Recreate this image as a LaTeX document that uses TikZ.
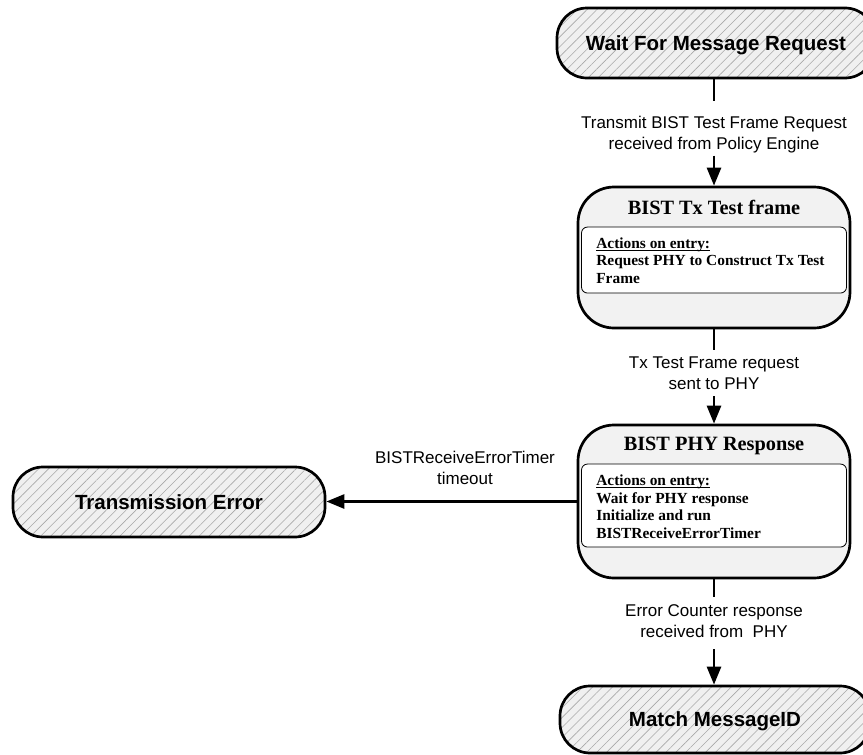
\documentclass[tikz,border=0pt]{standalone}
\usepackage{fontspec}
\setmainfont{Liberation Sans}
\newfontfamily\statefont{Liberation Serif}
\usetikzlibrary{arrows.meta, patterns.meta}

\definecolor{hatchbg}{HTML}{F0F0F0}
\definecolor{hatchln}{HTML}{A8A8A8}
\definecolor{statebg}{HTML}{F2F2F2}

\tikzset{
  terminal/.style={draw, line width=2.7pt, rounded corners=30pt,
    preaction={fill=hatchbg},
    pattern={Lines[angle=45, distance=7pt, line width=0.6pt]}, pattern color=hatchln,
    font=\fontsize{20.5}{24}\selectfont\bfseries,
    text height=14.7pt, text depth=0pt, inner sep=0pt},
  statebox/.style={draw, line width=2.7pt, rounded corners=36pt, fill=statebg,
    minimum width=272pt, inner sep=0pt},
  statetitle/.style={font=\statefont\fontsize{20.3}{24}\selectfont\bfseries,
    inner sep=0pt, anchor=base},
  actionbox/.style={draw, line width=0.8pt, rounded corners=6pt, fill=white,
    minimum width=265pt, inner sep=0pt, anchor=north},
  actiontext/.style={font=\statefont\fontsize{15.4}{17.4}\selectfont\bfseries,
    align=left, inner sep=0pt, anchor=north west},
  trans/.style={font=\fontsize{17}{21}\selectfont, align=center, inner sep=0pt},
  link/.style={line width=2.7pt},
  arrowlink/.style={line width=2.7pt, -{Triangle[length=18pt, width=14pt]}},
}
% heading of an action list: underlined just below the baseline
\newcommand{\actionhead}{\underline{\smash{Actions on entry:}}}

\begin{document}
\begin{tikzpicture}[x=1pt, y=-1pt]
\useasboundingbox (0,0) rectangle (863,755);

% terminal states
\node[terminal, minimum width=318pt, minimum height=70pt] (wait) at (716,43) {Wait For Message Request};
\node[terminal, minimum width=312pt, minimum height=70pt] (err) at (169,502) {Transmission Error};
\node[terminal, minimum width=310pt, minimum height=67pt] (match) at (715,719.5) {Match MessageID};

% BIST Tx Test frame state
\node[statebox, minimum height=141pt] (tx) at (714,257.5) {};
\node[statetitle] (txT) at ([yshift=-29pt]tx.north) {BIST Tx Test frame};
\node[actionbox, minimum height=66pt] (txA) at ([yshift=-41pt]tx.north) {};
\node[actiontext] (txL) at ([xshift=15pt,yshift=-21.5pt]txA.north west)
  {\actionhead\\Request PHY to Construct Tx Test\\Frame};

% BIST PHY Response state
\node[statebox, minimum height=153pt] (phy) at (714,501.5) {};
\node[statetitle] (phyT) at ([yshift=-27pt]phy.north) {BIST PHY Response};
\node[actionbox, minimum height=83pt] (phyA) at ([yshift=-40pt]phy.north) {};
\node[actiontext] (phyL) at ([xshift=15pt,yshift=-22pt]phyA.north west)
  {\actionhead\\Wait for PHY response\\Initialize and run\\BISTReceiveErrorTimer};

% transition labels
\node[trans, anchor=north] (l1) at (714,116) {Transmit BIST Test Frame Request\\received from Policy Engine};
\node[trans, anchor=north] (l2) at (714,357) {Tx Test Frame request\\sent to PHY};
\node[trans, anchor=north] (l3) at (714,604) {Error Counter response\\received from\ \ PHY};
\node[trans, anchor=south] (l4) at (465,485) {BISTReceiveErrorTimer\\timeout};

% transitions
\draw[link, shorten >=15pt] (wait.south -| l1.north) -- (l1.north);
\draw[arrowlink, shorten <=2.5pt] (l1.south) -- (tx.north);
\draw[link, shorten >=7pt] (tx.south) -- (l2.north);
\draw[arrowlink, shorten <=6pt] (l2.south) -- (phy.north);
\draw[link, shorten >=7pt] (phy.south) -- (l3.north);
\draw[arrowlink, shorten <=12pt] (l3.south) -- (match.north -| l3.south);
\draw[arrowlink] (phy.west) -- (phy.west -| err.east);
\end{tikzpicture}
\end{document}
